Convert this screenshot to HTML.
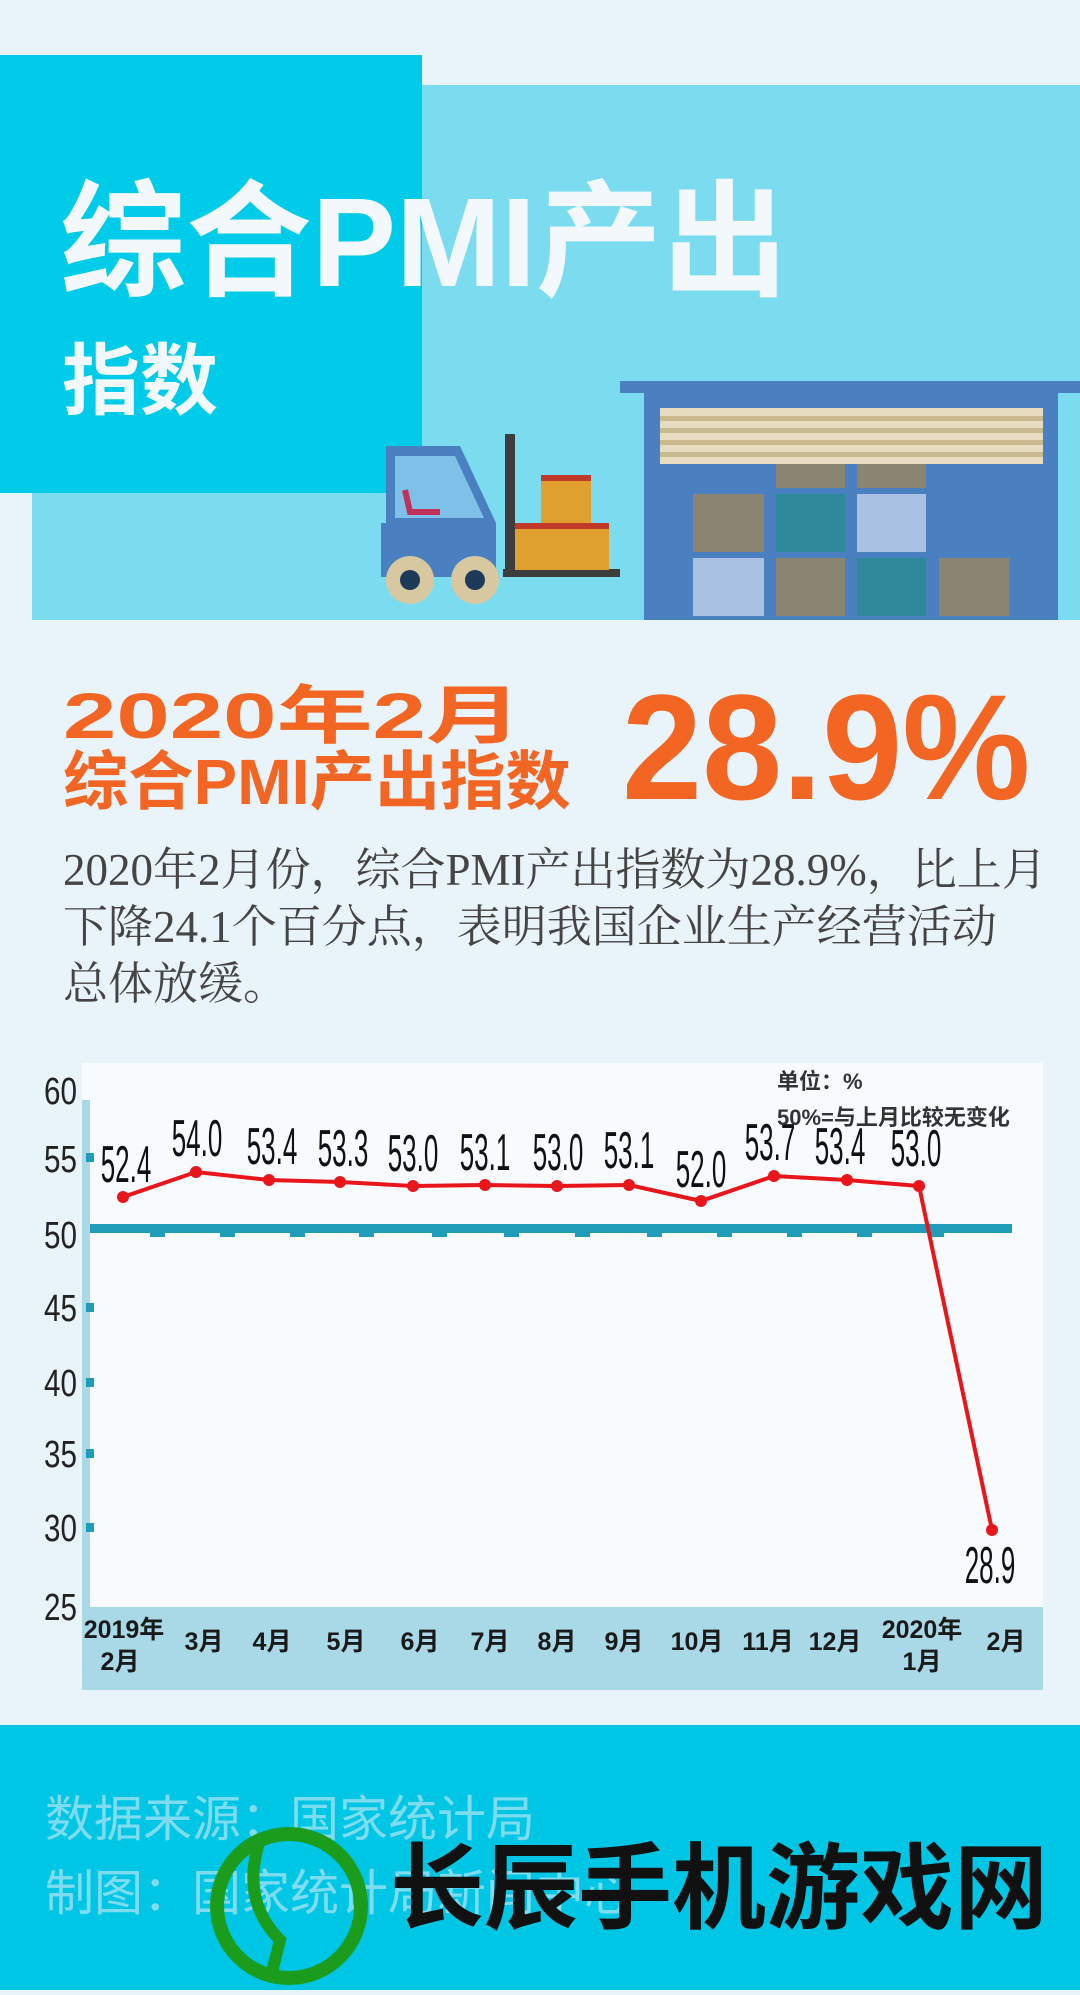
<!DOCTYPE html>
<html><head><meta charset="utf-8">
<style>
html,body{margin:0;padding:0}
body{width:1080px;height:1990px;position:relative;overflow:hidden;background:#e9f3fa;font-family:"Liberation Sans","Noto Sans CJK SC",sans-serif}
.a{position:absolute;white-space:nowrap}
</style></head><body>
<div class="a" style="left:32px;top:85px;width:1048px;height:535px;background:#7adcee"></div>
<div class="a" style="left:0;top:55px;width:422px;height:438px;background:#00cbe8"></div>
<div class="a" style="left:60px;top:180px;font-size:126px;font-weight:bold;color:#f2f8fb;line-height:1;font-family:'Liberation Sans','Noto Sans CJK SC',sans-serif">综合PMI产出</div>
<div class="a" style="left:62px;top:342px;font-size:78px;font-weight:bold;color:#f2f8fb;line-height:1">指数</div>

<svg class="a" style="left:0;top:0" width="1080" height="640">
 <rect x="620" y="381" width="460" height="12" fill="#4a7fc0"/>
 <rect x="644" y="390" width="414" height="230" fill="#4a7fc0"/>
 <rect x="660" y="408" width="383" height="56" fill="#e8dcc0"/>
 <g fill="#c9b98e"><rect x="660" y="416" width="383" height="5"/><rect x="660" y="428" width="383" height="5"/><rect x="660" y="440" width="383" height="5"/><rect x="660" y="452" width="383" height="5"/></g>
 <rect x="776" y="464" width="69" height="24" fill="#8a8470"/>
 <rect x="857" y="464" width="69" height="24" fill="#8a8470"/>
 <rect x="693" y="494" width="71" height="58" fill="#8a8470"/>
 <rect x="776" y="494" width="69" height="58" fill="#2e8a9a"/>
 <rect x="857" y="494" width="69" height="58" fill="#a9c2e3"/>
 <rect x="693" y="558" width="71" height="58" fill="#a9c2e3"/>
 <rect x="776" y="558" width="69" height="58" fill="#8a8470"/>
 <rect x="857" y="558" width="69" height="58" fill="#2e8a9a"/>
 <rect x="939" y="558" width="70" height="58" fill="#8a8470"/>
 <rect x="505" y="434" width="10" height="140" fill="#3d3d3d"/>
 <rect x="503" y="569" width="117" height="8" fill="#3d3d3d"/>
 <rect x="541" y="475" width="50" height="48" fill="#e0a030"/>
 <rect x="541" y="475" width="50" height="6" fill="#c0392b"/>
 <rect x="515" y="523" width="94" height="47" fill="#e0a030"/>
 <rect x="515" y="523" width="94" height="6" fill="#c0392b"/>
 <path d="M386 446 L460 446 L496 523 L496 577 L381 577 L381 523 L386 523 Z" fill="#4a7fc0"/>
 <path d="M395 456 L455 456 L484 518 L395 518 Z" fill="#7fc0e8"/>
 <path d="M405 490 L410 512 L440 512" stroke="#c0305a" stroke-width="6" fill="none"/>
 <circle cx="410" cy="580" r="24" fill="#d8c8a0"/><circle cx="410" cy="580" r="10" fill="#1d3a5a"/>
 <circle cx="475" cy="580" r="24" fill="#d8c8a0"/><circle cx="475" cy="580" r="10" fill="#1d3a5a"/>
</svg>

<div class="a" style="left:63px;top:684px;font-size:64px;font-weight:bold;color:#f26522;line-height:1;transform:scaleX(1.5);transform-origin:0 0">2020年2月</div>
<div class="a" style="left:63px;top:750px;font-size:64px;font-weight:bold;color:#f26522;line-height:1;transform:scaleX(1.02);transform-origin:0 0">综合PMI产出指数</div>
<div class="a" style="left:622px;top:672px;font-size:150px;font-weight:bold;color:#f26522;line-height:1;transform:scaleX(0.96);transform-origin:0 0">28.9%</div>

<div class="a" style="left:63px;top:842px;font-size:45px;line-height:57px;color:#444;font-family:'Liberation Serif','Noto Serif CJK SC',serif;white-space:normal;width:990px">2020年2月份，综合PMI产出指数为28.9%，比上月<br>下降24.1个百分点，表明我国企业生产经营活动<br>总体放缓。</div>

<svg class="a" style="left:0;top:1060px" width="1080" height="650" font-family="Liberation Sans, Noto Sans CJK SC, sans-serif">
 <rect x="82" y="3" width="961" height="627" fill="#f7fbfe"/>
 <rect x="82" y="547" width="961" height="83" fill="#a9d8e7"/>
 <rect x="82" y="40" width="8" height="507" fill="#a9d8e7"/>
 <g fill="#1e9cb8">
  <rect x="86" y="93" width="8" height="9"/><rect x="86" y="243" width="8" height="9"/><rect x="86" y="318" width="8" height="9"/><rect x="86" y="389" width="8" height="9"/><rect x="86" y="463" width="8" height="9"/>
  <rect x="90" y="164" width="922" height="9"/>
  <rect x="150" y="171" width="15" height="6"/><rect x="220" y="171" width="15" height="6"/><rect x="290" y="171" width="15" height="6"/><rect x="359" y="171" width="15" height="6"/><rect x="432" y="171" width="15" height="6"/><rect x="504" y="171" width="15" height="6"/><rect x="575" y="171" width="15" height="6"/><rect x="647" y="171" width="15" height="6"/><rect x="717" y="171" width="15" height="6"/><rect x="787" y="171" width="15" height="6"/><rect x="857" y="171" width="15" height="6"/><rect x="929" y="171" width="15" height="6"/>
 </g>
 <g font-size="38" fill="#222" text-anchor="end">
  <text transform="translate(77 44) scale(0.78 1)">60</text>
  <text transform="translate(77 112) scale(0.78 1)">55</text>
  <text transform="translate(77 188) scale(0.78 1)">50</text>
  <text transform="translate(77 261) scale(0.78 1)">45</text>
  <text transform="translate(77 336) scale(0.78 1)">40</text>
  <text transform="translate(77 407) scale(0.78 1)">35</text>
  <text transform="translate(77 481) scale(0.78 1)">30</text>
  <text transform="translate(77 560) scale(0.78 1)">25</text>
 </g>
 <polyline fill="none" stroke="#e8161b" stroke-width="4" points="123,137 196,112 269,120 340,122 413,126 485,125 557,126 629,125 701,141 774,116 847,120 919,126 992,470"/>
 <g fill="#e8161b">
  <circle cx="123" cy="137" r="6"/><circle cx="196" cy="112" r="6"/><circle cx="269" cy="120" r="6"/><circle cx="340" cy="122" r="6"/><circle cx="413" cy="126" r="6"/><circle cx="485" cy="125" r="6"/><circle cx="557" cy="126" r="6"/><circle cx="629" cy="125" r="6"/><circle cx="701" cy="141" r="6"/><circle cx="774" cy="116" r="6"/><circle cx="847" cy="120" r="6"/><circle cx="919" cy="126" r="6"/><circle cx="992" cy="470" r="6"/>
 </g>
 <g font-size="52" fill="#111" text-anchor="middle">
  <text transform="translate(126 122) scale(0.5 1)">52.4</text>
  <text transform="translate(197 96) scale(0.5 1)">54.0</text>
  <text transform="translate(272 104) scale(0.5 1)">53.4</text>
  <text transform="translate(343 106) scale(0.5 1)">53.3</text>
  <text transform="translate(413 111) scale(0.5 1)">53.0</text>
  <text transform="translate(485 110) scale(0.5 1)">53.1</text>
  <text transform="translate(558 110) scale(0.5 1)">53.0</text>
  <text transform="translate(629 108) scale(0.5 1)">53.1</text>
  <text transform="translate(701 127) scale(0.5 1)">52.0</text>
  <text transform="translate(770 100) scale(0.5 1)">53.7</text>
  <text transform="translate(840 104) scale(0.5 1)">53.4</text>
  <text transform="translate(916 106) scale(0.5 1)">53.0</text>
  <text transform="translate(990 523) scale(0.5 1)">28.9</text>
 </g>
 <g font-size="22" font-weight="bold" fill="#333">
  <text x="777" y="29">单位：%</text>
  <text x="777" y="65">50%=与上月比较无变化</text>
 </g>
 <g font-size="25" font-weight="bold" fill="#1a1a1a" text-anchor="middle">
  <text x="124" y="578">2019年</text><text x="120" y="610">2月</text>
  <text x="204" y="590">3月</text><text x="272" y="590">4月</text><text x="346" y="590">5月</text>
  <text x="420" y="590">6月</text><text x="490" y="590">7月</text><text x="557" y="590">8月</text>
  <text x="624" y="590">9月</text><text x="697" y="590">10月</text><text x="768" y="590">11月</text>
  <text x="835" y="590">12月</text>
  <text x="922" y="578">2020年</text><text x="922" y="610">1月</text>
  <text x="1006" y="590">2月</text>
 </g>
</svg>

<div class="a" style="left:0;top:1725px;width:1080px;height:265px;background:#00c6e6"></div>
<div class="a" style="left:45px;top:1796px;font-size:49px;color:#7fdcef;line-height:1">数据来源：国家统计局</div>
<div class="a" style="left:45px;top:1870px;font-size:49px;color:#7fdcef;line-height:1">制图：国家统计局新闻中心</div>
<svg class="a" style="left:200px;top:1820px" width="180" height="175">
 <circle cx="89" cy="86" r="72" fill="none" stroke="#1c9c1c" stroke-width="14"/>
 <path d="M60 20 Q40 80 80 120 L70 160" stroke="#1c9c1c" stroke-width="12" fill="none"/>
</svg>
<div class="a" style="left:390px;top:1842px;font-size:94px;font-weight:bold;color:#111;line-height:1">长辰手机游戏网</div>
</body></html>
